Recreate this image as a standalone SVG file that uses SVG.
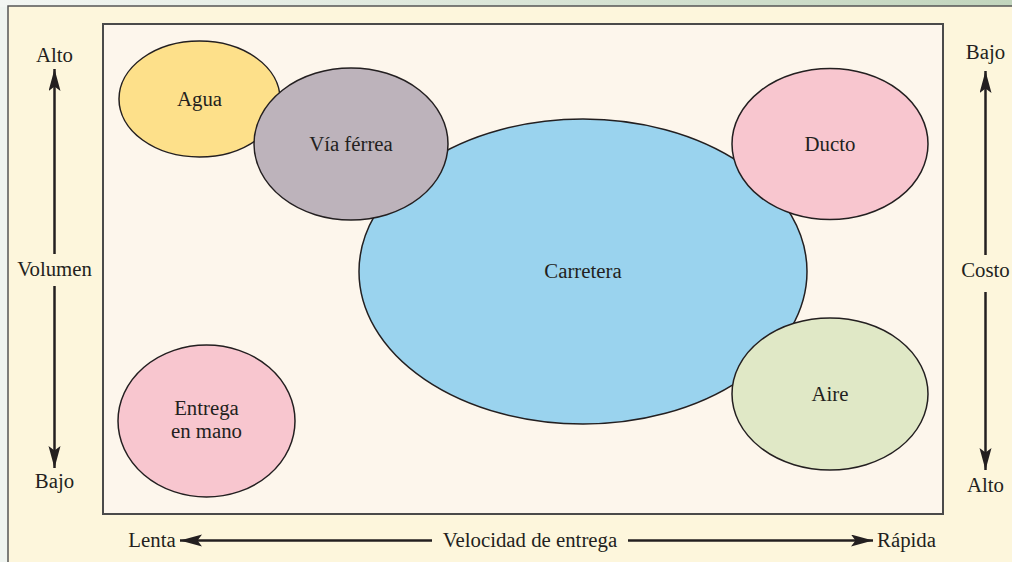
<svg xmlns="http://www.w3.org/2000/svg" width="1012" height="562" viewBox="0 0 1012 562">
<defs>
<linearGradient id="band" x1="0" y1="0" x2="1" y2="0">
<stop offset="0" stop-color="#f3f6f3"/>
<stop offset="1" stop-color="#c2d5bd"/>
</linearGradient>
<marker id="ah" markerUnits="userSpaceOnUse" markerWidth="24" markerHeight="13" refX="22" refY="6" orient="auto">
<path d="M0,0 L22,6 L0,12 L4.5,6 Z" fill="#231f20"/>
</marker>
<style>
text{font-family:"Liberation Serif","Times New Roman",serif;font-size:20.8px;fill:#231f20;text-anchor:middle}
.node ellipse{stroke:#231f20;stroke-width:1.5}
.ax{stroke:#231f20;stroke-width:2.5;fill:none;marker-end:url(#ah)}
</style>
</defs>
<rect x="0" y="0" width="1012" height="562" fill="#eff4f0"/>
<rect x="0" y="0" width="1012" height="7" fill="url(#band)"/>
<rect x="8" y="6" width="1012" height="562" fill="#fdf6dc" stroke="#555" stroke-width="1.5"/>
<rect x="103" y="24" width="840" height="490" fill="#fdf6ec" stroke="#4a4a4a" stroke-width="2"/>

<g id="carretera" class="node"><ellipse cx="583" cy="271.5" rx="224" ry="152.5" fill="#9ad3ee"/><text x="583" y="278">Carretera</text></g>
<g id="agua" class="node"><ellipse cx="199.5" cy="99" rx="80.5" ry="58" fill="#fde08a"/><text x="199.5" y="106">Agua</text></g>
<g id="via-ferrea" class="node"><ellipse cx="351" cy="144" rx="97" ry="76" fill="#bdb3bb"/><text x="351" y="151">Vía férrea</text></g>
<g id="ducto" class="node"><ellipse cx="830" cy="144" rx="98" ry="75.5" fill="#f8c6cf"/><text x="830" y="151">Ducto</text></g>
<g id="aire" class="node"><ellipse cx="830" cy="394" rx="98" ry="76" fill="#e0e8c6"/><text x="830" y="401">Aire</text></g>
<g id="entrega" class="node"><ellipse cx="206.5" cy="421" rx="88.5" ry="76" fill="#f8c6cf"/><text x="206.5" y="415">Entrega</text><text x="206.5" y="438">en mano</text></g>

<g id="connectors">
<line class="ax" x1="54.5" y1="254" x2="54.5" y2="69"/>
<line class="ax" x1="54.5" y1="286" x2="54.5" y2="468"/>
<line class="ax" x1="985.5" y1="255" x2="985.5" y2="71"/>
<line class="ax" x1="985.5" y1="292" x2="985.5" y2="470"/>
<line class="ax" x1="432" y1="540.5" x2="180" y2="540.5"/>
<line class="ax" x1="628" y1="540.5" x2="873" y2="540.5"/>
</g>

<g id="labels">
<text x="54.5" y="62">Alto</text>
<text x="54.5" y="276">Volumen</text>
<text x="54.5" y="488">Bajo</text>
<text x="985.5" y="59">Bajo</text>
<text x="985.5" y="277">Costo</text>
<text x="985.5" y="492">Alto</text>
<text x="152" y="546.5">Lenta</text>
<text x="530" y="546.5">Velocidad de entrega</text>
<text x="906.5" y="546.5">Rápida</text>
</g>
</svg>
